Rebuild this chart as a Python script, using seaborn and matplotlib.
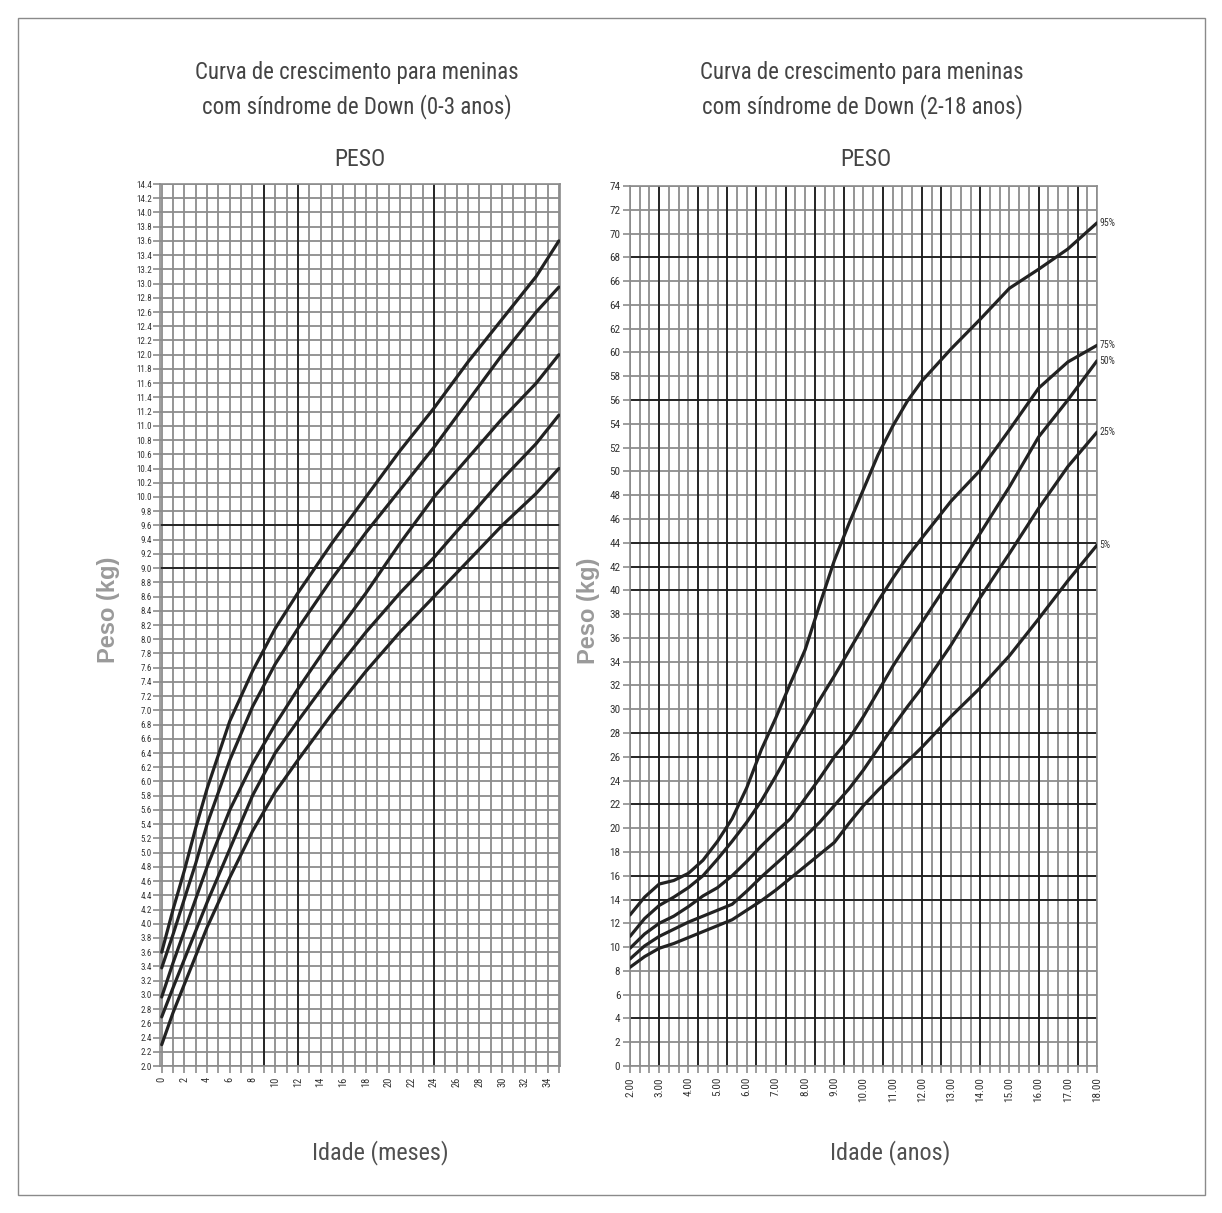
import numpy as np
import pandas as pd
import matplotlib
matplotlib.use("Agg")
import matplotlib.pyplot as plt
import seaborn as sns
from matplotlib import font_manager
from matplotlib.patches import Rectangle
from matplotlib.ticker import FormatStrFormatter

# ---------------- Data ----------------
# Left chart: girls with Down syndrome, 0-3 years (months vs kg)
months = [0, 1, 2, 3, 4, 6, 8, 10, 12, 15, 18, 21, 24, 27, 30, 33, 35]
left_c1 = [3.6, 4.2, 4.75, 5.35, 5.9, 6.85, 7.55, 8.15, 8.65, 9.35, 10.0, 10.65, 11.25, 11.9, 12.5, 13.1, 13.6]
left_c2 = [3.38, 3.85, 4.35, 4.85, 5.4, 6.3, 7.05, 7.65, 8.15, 8.85, 9.5, 10.1, 10.7, 11.35, 12.0, 12.6, 12.95]
left_c3 = [2.97, 3.45, 3.9, 4.35, 4.8, 5.6, 6.25, 6.8, 7.3, 8.0, 8.65, 9.35, 10.0, 10.55, 11.1, 11.6, 12.0]
left_c4 = [2.69, 3.1, 3.5, 3.9, 4.3, 5.05, 5.8, 6.4, 6.85, 7.5, 8.1, 8.65, 9.15, 9.7, 10.25, 10.75, 11.15]
left_c5 = [2.3, 2.75, 3.15, 3.55, 3.95, 4.65, 5.3, 5.85, 6.3, 6.95, 7.55, 8.1, 8.6, 9.1, 9.6, 10.05, 10.4]

# Right chart: girls with Down syndrome, 2-18 years (years vs kg)
ages = [2, 2.5, 3, 3.5, 4, 4.5, 5, 5.5, 6, 6.5, 7, 7.5, 8, 8.5, 9, 9.5, 10, 10.5, 11, 11.5, 12, 13, 14, 15, 16, 17, 18]
p95 = [12.7, 14.2, 15.3, 15.6, 16.2, 17.3, 18.9, 20.8, 23.4, 26.6, 29.3, 32.2, 35.0, 38.8, 42.5, 45.6, 48.5, 51.4, 53.8, 55.9, 57.6, 60.3, 62.8, 65.4, 67.0, 68.7, 70.9]
p75 = [10.9, 12.4, 13.5, 14.2, 15.0, 16.0, 17.4, 18.9, 20.5, 22.3, 24.4, 26.6, 28.7, 30.8, 32.8, 34.9, 37.0, 39.1, 41.0, 42.8, 44.4, 47.5, 50.1, 53.5, 57.0, 59.2, 60.6]
p50 = [9.9, 11.1, 12.0, 12.6, 13.4, 14.3, 15.0, 16.0, 17.2, 18.5, 19.7, 20.8, 22.5, 24.2, 26.0, 27.5, 29.4, 31.5, 33.6, 35.5, 37.3, 41.0, 44.8, 48.7, 52.9, 56.0, 59.3]
p25 = [9.0, 10.1, 10.9, 11.5, 12.1, 12.6, 13.1, 13.6, 14.7, 15.9, 17.0, 18.1, 19.3, 20.5, 21.9, 23.3, 24.9, 26.7, 28.5, 30.2, 31.8, 35.4, 39.4, 43.1, 46.9, 50.4, 53.3]
p05 = [8.3, 9.2, 9.9, 10.3, 10.8, 11.3, 11.8, 12.3, 13.1, 13.9, 14.8, 15.8, 16.8, 17.8, 18.8, 20.4, 21.9, 23.2, 24.4, 25.6, 26.8, 29.4, 31.8, 34.5, 37.6, 40.8, 43.8]
pct_labels = ["95%", "75%", "50%", "25%", "5%"]

left_yticks = np.round(np.arange(2.0, 14.41, 0.2), 1)
left_xticks = list(range(0, 35, 2))
right_xticks = list(range(2, 19))
right_yticks = list(range(0, 75, 2))

# emphasised grid lines (as printed on the original chart)
left_dark_x = [9, 12, 24]
left_dark_y = [9.0, 9.6]
right_dark_x = [3.0, 4 + 1/3, 5 + 1/3, 6 + 1/3, 7 + 1/3, 8 + 1/3, 9 + 1/3, 10 + 2/3, 12.0, 12 + 2/3, 14.0, 16.0, 17 + 1/3]
right_dark_y = [4, 14, 16, 22, 26, 28, 40, 42, 44, 56, 68]

# ---------------- Style ----------------
sns.set_theme(style="white")
available = {f.name for f in font_manager.fontManager.ttflist}
narrow = next((f for f in ["Liberation Sans Narrow", "DejaVu Sans Condensed", "Roboto Condensed",
                           "Liberation Sans"] if f in available), "DejaVu Sans")
plt.rcParams["font.family"] = [narrow, "DejaVu Sans"]

W, H = 1222, 1213
fig = plt.figure(figsize=(W / 100, H / 100), dpi=100)
fig.patch.set_facecolor("white")
fig.add_artist(Rectangle((18 / W, 1 - 1195 / H), 1187 / W, 1177 / H, transform=fig.transFigure,
                         fill=False, edgecolor="#8a8a8a", lw=1.0))

GRID = "#8c8c8c"
DARK = "#1e1e1e"
CURVE = "#222222"

axL = fig.add_axes([160 / W, 1 - 1066 / H, 400 / W, 882 / H])
axR = fig.add_axes([630 / W, 1 - 1066 / H, 467 / W, 880 / H])

# ---- left chart ----
dfL = pd.concat([pd.DataFrame({"Idade": months, "Peso": c, "curva": i})
                 for i, c in enumerate([left_c1, left_c2, left_c3, left_c4, left_c5])])
sns.lineplot(data=dfL, x="Idade", y="Peso", units="curva", estimator=None, color=CURVE,
             lw=2.3, ax=axL, zorder=4, sort=False)
axL.set_xlim(-0.15, 35.1)
axL.set_ylim(2.0, 14.4)
axL.set_xticks(left_xticks)
axL.set_xticks(np.arange(0, 36, 1), minor=True)
axL.set_yticks(left_yticks)
axL.yaxis.set_major_formatter(FormatStrFormatter("%.1f"))
axL.grid(which="both", color=GRID, lw=1.3)
for v in left_dark_x:
    axL.axvline(v, color=DARK, lw=1.3, zorder=2)
for v in left_dark_y:
    axL.axhline(v, color=DARK, lw=1.3, zorder=2)
axL.tick_params(axis="y", labelsize=6.5, length=5, width=1.2, color=GRID, pad=1, labelcolor="#333333")
axL.tick_params(axis="x", which="both", labelsize=7.5, length=5, width=1.2, color=GRID,
                labelrotation=90, pad=3, labelcolor="#333333")
axL.tick_params(left=True, bottom=True)
axL.tick_params(axis="x", which="minor", bottom=True, labelbottom=False)

# ---- right chart ----
series = [p95, p75, p50, p25, p05]
dfR = pd.concat([pd.DataFrame({"Idade": ages, "Peso": c, "curva": lab})
                 for lab, c in zip(pct_labels, series)])
sns.lineplot(data=dfR, x="Idade", y="Peso", units="curva", estimator=None, color=CURVE,
             lw=2.3, ax=axR, zorder=4, sort=False)
axR.set_xlim(2, 18)
axR.set_ylim(0, 74)
axR.set_xticks(right_xticks)
axR.set_xticks(np.arange(2, 18.01, 1 / 3), minor=True)
axR.set_yticks(right_yticks)
axR.xaxis.set_major_formatter(FormatStrFormatter("%.2f"))
axR.grid(which="both", color=GRID, lw=1.3)
for v in right_dark_x:
    axR.axvline(v, color=DARK, lw=1.3, zorder=2)
for v in right_dark_y:
    axR.axhline(v, color=DARK, lw=1.3, zorder=2)
axR.tick_params(axis="y", labelsize=8, length=5, width=1.2, color=GRID, pad=2, labelcolor="#333333")
axR.tick_params(axis="x", which="both", labelsize=8, length=5, width=1.2, color=GRID,
                labelrotation=90, pad=3, labelcolor="#333333")
axR.tick_params(left=True, bottom=True)
axR.tick_params(axis="x", which="minor", bottom=True, labelbottom=False)
for lab, c in zip(pct_labels, series):
    axR.text(18.08, c[-1], lab, fontsize=7, va="center", ha="left", color="#333333", clip_on=False)

for ax in (axL, axR):
    for s in ax.spines.values():
        s.set_color(GRID)
        s.set_linewidth(1.2)
    ax.set_ylabel("Peso (kg)", fontsize=17, fontweight="bold", color="#9a9a9a",
                  family=["Liberation Sans", "DejaVu Sans"])
axL.yaxis.set_label_coords(-0.1, 0.517)
axR.yaxis.set_label_coords(-0.064, 0.517)
axL.set_xlabel("Idade (meses)", fontsize=17.5, color="#505050")
axR.set_xlabel("Idade (anos)", fontsize=17.5, color="#505050")
axL.xaxis.set_label_coords(0.55, -0.084)
axR.xaxis.set_label_coords(0.557, -0.084)

# ---- titles ----
fig.text(357 / W, 1 - 90 / H, "Curva de crescimento para meninas\ncom síndrome de Down (0-3 anos)",
         ha="center", va="center", fontsize=16.5, linespacing=1.5, color="#444444")
fig.text(862 / W, 1 - 90 / H, "Curva de crescimento para meninas\ncom síndrome de Down (2-18 anos)",
         ha="center", va="center", fontsize=16.5, linespacing=1.5, color="#444444")
fig.text(360 / W, 1 - 160 / H, "PESO", ha="center", va="center", fontsize=17, color="#444444")
fig.text(866 / W, 1 - 160 / H, "PESO", ha="center", va="center", fontsize=17, color="#444444")

fig.savefig("out.png", dpi=100, facecolor="white")
